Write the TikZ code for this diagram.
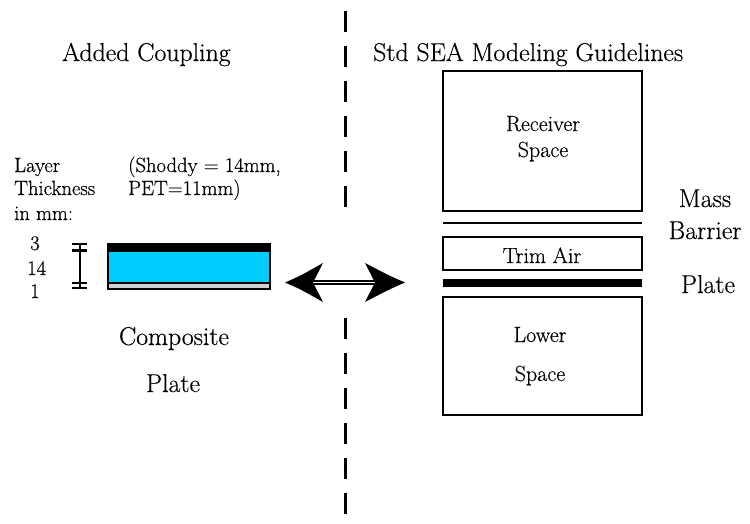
\documentclass[tikz,border=0pt]{standalone}
\usepackage{fontspec}
\setmainfont{Latin Modern Roman}[FakeBold=0.4]
\begin{document}
\begin{tikzpicture}[x=1pt,y=-1pt,
  big/.style={font=\fontsize{25.8}{30}\selectfont, inner sep=0pt},
  small/.style={font=\fontsize{22}{26}\selectfont, inner sep=0pt},
  note/.style={font=\fontsize{20.6}{25}\selectfont, inner sep=0pt},
  boxline/.style={line width=2.2pt},
  divider/.style={line width=3pt, dash pattern=on 21pt off 14pt},
  tick/.style={line width=2.2pt}]
\useasboundingbox (0,0) rectangle (750,523);
% divider
\coordinate (d1) at (345,11);
\coordinate (d2) at (345,207);
\coordinate (d3) at (345,318);
\coordinate (d4) at (345,517);
\draw[divider] (d1) -- (d2);
\draw[divider] (d3) -- (d4);
% titles
\node[big, anchor=base west] (t1) at (62,61) {Added Coupling};
\node[big, anchor=base west] (t2) at (373,61) {Std SEA Modeling Guidelines};
% layer text
\node[note, anchor=base west] (l1) at (14,172) {Layer};
\node[note, anchor=base west] (l2) at (14,195) {Thickness};
\node[note, anchor=base west] (l3) at (14,220) {in mm:};
\node[note, anchor=base west] (s1) at (128,172) {(Shoddy = 14mm,};
\node[note, anchor=base west] (s2) at (128,195) {PET=11mm)};
\node[note, anchor=base west] (n1) at (30,250) {3};
\node[note, anchor=base west] (n2) at (27,275) {14};
\node[note, anchor=base west] (n3) at (30,298) {1};
% dimension bar
\draw[tick] (80,244) -- (80,288);
\draw[tick] (72,244) -- (87,244);
\draw[tick] (72,250.5) -- (87,250.5);
\draw[tick] (72,283) -- (87,283);
\draw[tick] (72,288) -- (87,288);
% composite plate
\fill[fill={rgb,255:red,0;green,204;blue,255}] (108,251) rectangle (270,283);
\fill[black] (107,243) rectangle (271,252);
\fill[black!18] (108,284) rectangle (270,289);
\draw[line width=2.2pt] (108,283) -- (270,283);
\draw[line width=2pt] (108,244) rectangle (270,289);
\node[big, anchor=base] (c1) at (174,345) {Composite};
\node[big, anchor=base] (c2) at (173,392) {Plate};
% double arrow
\coordinate (la) at (285,282.5);
\coordinate (ra) at (405,282.5);
\draw[line width=4.6pt] (312,282.5) -- (376,282.5);
\draw[line width=1.4pt, white] (312,282.5) -- (376,282.5);
\fill (la) .. controls (300,276) .. (323,263) -- (313,282.5) -- (323,302) .. controls (300,289) .. (la) -- cycle;
\fill (ra) .. controls (390,276) .. (365,263) -- (375,282.5) -- (365,302) .. controls (390,289) .. (ra) -- cycle;
% SEA side
\draw[boxline] (443,71) rectangle (642,211);
\node[small, anchor=base] (r1) at (543,131) {Receiver};
\node[small, anchor=base] (r2) at (543,157) {Space};
\coordinate (m1) at (443,223);
\coordinate (m2) at (642,223);
\draw[line width=2pt] (m1) -- (m2);
\draw[boxline] (443,237) rectangle (642,270);
\node[small, anchor=base] (ta) at (542,263) {Trim Air};
\fill (443,279) rectangle (642,287);
\draw[boxline] (443,297) rectangle (642,415);
\node[small, anchor=base] (w1) at (540,342) {Lower};
\node[small, anchor=base] (w2) at (540,381) {Space};
\node[big, anchor=base] (mb1) at (705,207) {Mass};
\node[big, anchor=base] (mb2) at (705,239) {Barrier};
\node[big, anchor=base] (pl) at (708,293) {Plate};
\end{tikzpicture}
\end{document}
